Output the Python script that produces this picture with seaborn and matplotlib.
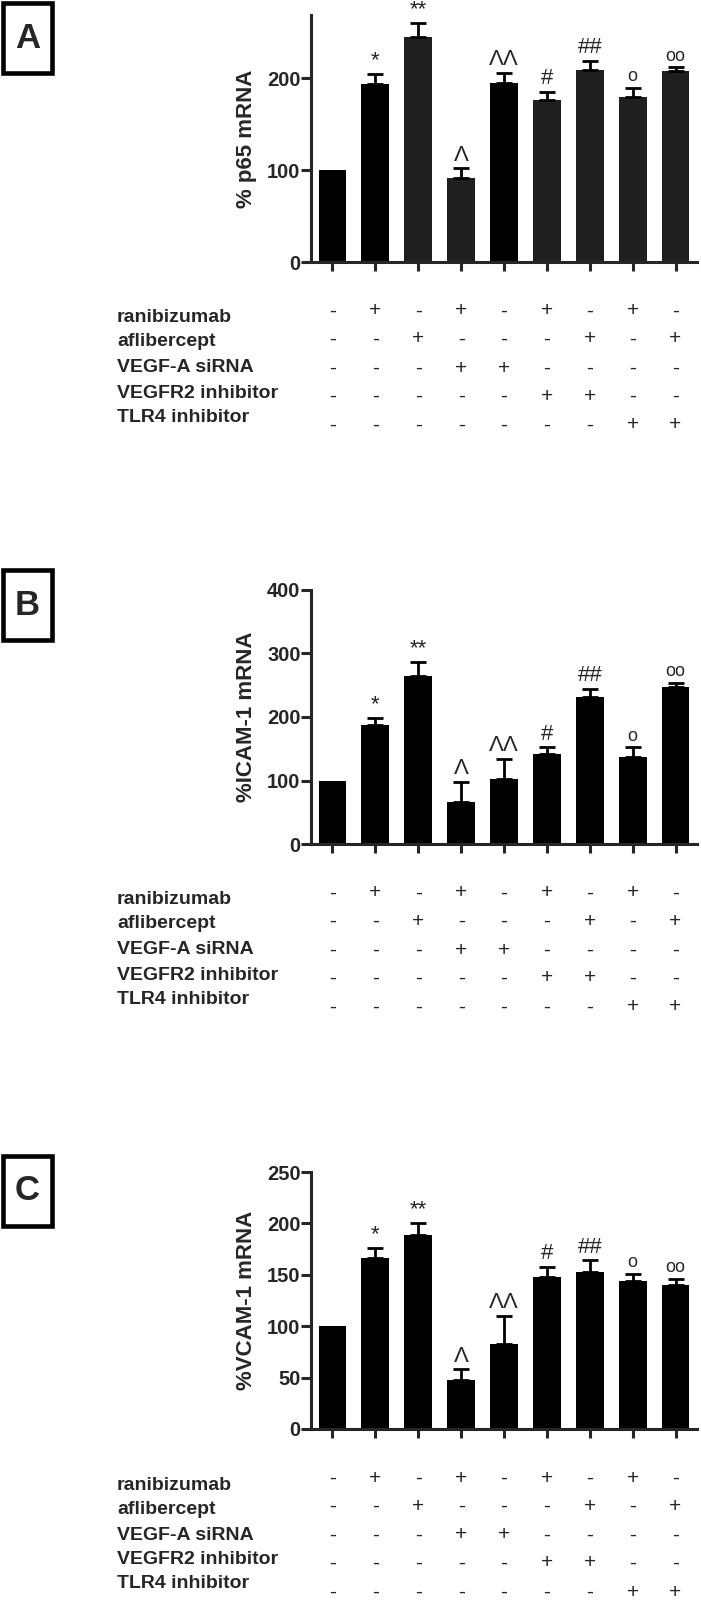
import numpy as np
import pandas as pd
import matplotlib
matplotlib.use("Agg")
import matplotlib.pyplot as plt
import matplotlib.transforms as mtransforms
from matplotlib.patches import Rectangle
import seaborn as sns

# treatment groups (one bar each)
groups = ["ctrl", "rani", "afli", "rani+siRNA", "siRNA", "rani+R2i", "afli+R2i", "rani+TLR4i", "afli+TLR4i"]

# panel A: p65
p65_mean = [100, 194, 245, 92, 195, 176, 209, 180, 208]
p65_err = [0, 11, 15, 10, 11, 9, 10, 10, 4]
# panel B: ICAM-1
icam_mean = [100, 187, 265, 66, 103, 142, 232, 137, 248]
icam_err = [0, 12, 21, 32, 31, 10, 12, 15, 6]
# panel C: VCAM-1
vcam_mean = [100, 166, 189, 48, 83, 148, 153, 144, 140]
vcam_err = [0, 10, 11, 10, 27, 10, 11, 7, 6]

sig_marks = ["", "*", "**", "\u039b", "\u039b\u039b", "#", "##", "o", "oo"]

row_labels = ["ranibizumab", "aflibercept", "VEGF-A siRNA", "VEGFR2 inhibitor", "TLR4 inhibitor"]
ranibizumab = ["-", "+", "-", "+", "-", "+", "-", "+", "-"]
aflibercept = ["-", "-", "+", "-", "-", "-", "+", "-", "+"]
vegfa_sirna = ["-", "-", "-", "+", "+", "-", "-", "-", "-"]
vegfr2_inh = ["-", "-", "-", "-", "-", "+", "+", "-", "-"]
tlr4_inh = ["-", "-", "-", "-", "-", "-", "-", "+", "+"]
table_rows = [ranibizumab, aflibercept, vegfa_sirna, vegfr2_inh, tlr4_inh]

sns.set_style("ticks")
plt.rcParams["font.family"] = ["Liberation Sans", "DejaVu Sans"]

W, H = 701, 1600
fig = plt.figure(figsize=(W / 100, H / 100), dpi=100)

# pixel layout: (axis top y, zero y, box top y)
panels = [
    ("A", p65_mean, p65_err, "% p65 mRNA", [0, 100, 200], 269, 15, 262, 3,
     ["#000000", "#000000", "#1f1f1f", "#1f1f1f", "#000000", "#1f1f1f", "#1f1f1f", "#1f1f1f", "#1f1f1f"]),
    ("B", icam_mean, icam_err, "%ICAM-1 mRNA", [0, 100, 200, 300, 400], 400, 590, 844, 570,
     ["#000000"] * 9),
    ("C", vcam_mean, vcam_err, "%VCAM-1 mRNA", [0, 50, 100, 150, 200, 250], 250, 1172, 1429, 1156,
     ["#000000"] * 9),
]

ax_left, ax_right = 311, 697
label_off = [56, 80, 106, 131, 155]
sym_off = [49, 77, 106, 134, 163]

for letter, means, errs, ylab, yticks, ymax, top, zero, box_top, colors in panels:
    ax = fig.add_axes([ax_left / W, 1 - zero / H, (ax_right - ax_left) / W, (zero - top) / H])
    df = pd.DataFrame({"group": groups, "value": means})
    sns.barplot(data=df, x="group", y="value", hue="group", palette=colors, legend=False,
                width=0.65, errorbar=None, saturation=1, linewidth=0, ax=ax)

    idx = [i for i in range(9) if errs[i] > 0]
    ax.errorbar(idx, [means[i] for i in idx],
                yerr=[np.zeros(len(idx)), [errs[i] for i in idx]],
                fmt="none", ecolor="black", elinewidth=2, capsize=5.5, capthick=2, zorder=3)

    for i, m in enumerate(sig_marks):
        if not m:
            continue
        size = 13 if m.startswith("o") else 16
        ax.annotate(m, (i, means[i] + errs[i]), xytext=(0, 2), textcoords="offset points",
                    ha="center", va="bottom", fontsize=size)

    ax.set_xlim(-0.5, 8.5)
    ax.set_ylim(0, ymax)
    ax.set_yticks(yticks)
    ax.set_xticks(range(9))
    ax.set_xticklabels([])
    ax.set_xlabel("")
    ax.set_ylabel(ylab, fontsize=16, fontweight="bold")
    ax.yaxis.set_label_coords(-0.14, 0.5)
    sns.despine(ax=ax)
    for s in ["left", "bottom"]:
        ax.spines[s].set_linewidth(2.2)
    ax.tick_params(axis="y", length=7, width=2.2, pad=0.5)
    ax.tick_params(axis="x", length=6.5, width=2.2)
    for t in ax.get_yticklabels():
        t.set_fontfamily(["Liberation Sans Narrow", "Liberation Sans"])
        t.set_fontweight("bold")
        t.set_fontsize(14.5)

    # treatment table
    trans = mtransforms.blended_transform_factory(ax.transData, fig.transFigure)
    for r, (lab, row) in enumerate(zip(row_labels, table_rows)):
        fig.text(117 / W, 1 - (zero + label_off[r]) / H, lab, fontsize=14, fontweight="bold",
                 ha="left", va="center")
        for i, s in enumerate(row):
            ax.text(i, 1 - (zero + sym_off[r]) / H, s, transform=trans, fontsize=15,
                    ha="center", va="center", clip_on=False)

    # panel letter box
    fig.add_artist(Rectangle((3 / W, 1 - (box_top + 70) / H), 49 / W, 70 / H,
                             transform=fig.transFigure, fill=False, lw=3.3, ec="black"))
    fig.text(27.5 / W, 1 - (box_top + 35) / H, letter, fontsize=25, fontweight="bold",
             ha="center", va="center")

fig.savefig("out.png", dpi=100)
